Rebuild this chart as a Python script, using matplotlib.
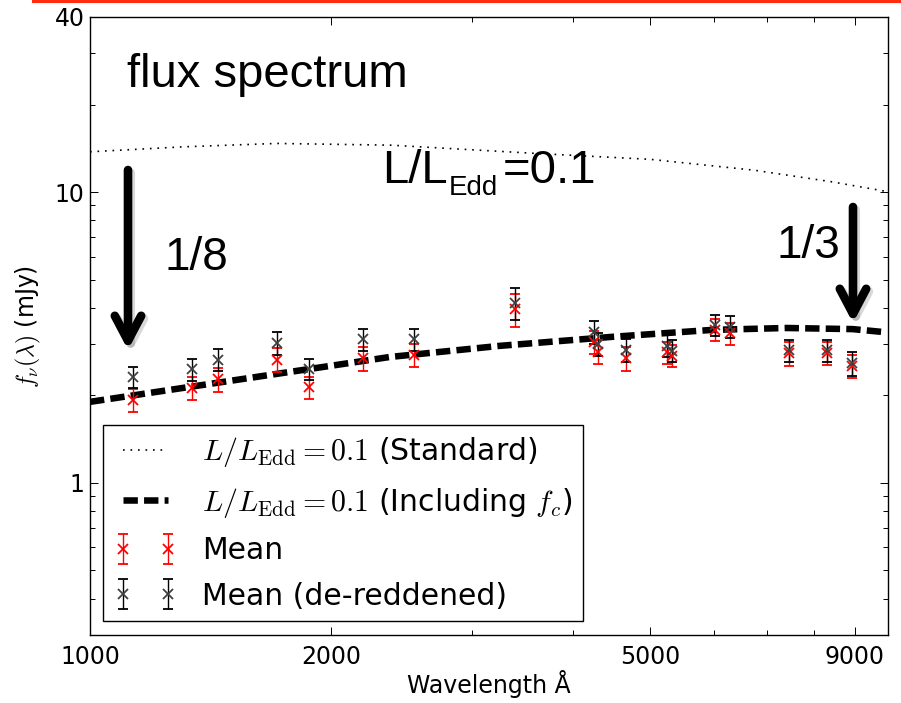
import matplotlib
matplotlib.use('Agg')
import matplotlib.pyplot as plt
import matplotlib.patheffects as pe
from matplotlib.lines import Line2D
from matplotlib.patches import FancyArrowPatch
from matplotlib.ticker import NullFormatter

# disk model spectra, f_nu in mJy vs wavelength in Angstrom
std_wave = [1000, 1307, 1710, 2374, 3606, 5003, 6745, 8420, 9803]
std_flux = [13.76, 14.31, 14.70, 14.50, 13.58, 12.96, 11.89, 10.85, 10.08]

fc_wave = [1000, 1522, 2365, 3245, 4487, 5982, 7396, 8943, 9800]
fc_flux = [1.90, 2.26, 2.71, 2.96, 3.18, 3.36, 3.41, 3.38, 3.30]

# mean photometry, observed and de-reddened
wave = [1133, 1339, 1446, 1712, 1878, 2189, 2540, 3386, 4250, 4300,
        4668, 5250, 5330, 6017, 6281, 7450, 8312, 8930]
mean_flux = [1.93, 2.12, 2.27, 2.65, 2.13, 2.68, 2.75, 3.95, 3.06, 2.83,
             2.68, 2.81, 2.74, 3.36, 3.27, 2.79, 2.80, 2.52]
mean_err = [0.17, 0.19, 0.21, 0.25, 0.19, 0.25, 0.25, 0.50, 0.28, 0.26,
            0.25, 0.25, 0.24, 0.29, 0.29, 0.26, 0.26, 0.23]
dered_flux = [2.31, 2.46, 2.65, 3.03, 2.46, 3.12, 3.12, 4.15, 3.31, 3.00,
              2.86, 2.96, 2.85, 3.49, 3.45, 2.86, 2.86, 2.58]
dered_err = [0.19, 0.21, 0.23, 0.27, 0.20, 0.27, 0.27, 0.53, 0.30, 0.27,
             0.26, 0.26, 0.25, 0.30, 0.30, 0.25, 0.25, 0.25]

xticks = [1000, 2000, 5000, 9000]
yticks = [1, 10, 40]

plt.rcParams['mathtext.fontset'] = 'cm'
plt.rcParams['font.family'] = 'DejaVu Sans'

W, H = 901, 703


def fx(px):
    return px / W


def fy(py):
    return 1 - py / H


fig = plt.figure(figsize=(W / 100, H / 100), dpi=100)
ax = fig.add_axes([fx(90), fy(635), (888 - 90) / W, (635 - 17) / H])

ax.plot(std_wave, std_flux, color='k', lw=1.2, ls=(0, (1, 3.5)),
        label=r'$L/L_{\rm Edd}=0.1$ (Standard)')
ax.plot(fc_wave, fc_flux, color='k', lw=4.7, ls=(0, (2.2, 0.95)),
        label=r'$L/L_{\rm Edd}=0.1$ (Including $f_c$)')
ax.errorbar(wave, mean_flux, yerr=mean_err, fmt='x', color='r', ms=7, mew=1.3,
            elinewidth=1, capsize=3.6, capthick=1, label='Mean')
ax.errorbar(wave, dered_flux, yerr=dered_err, fmt='x', color='k', mec='0.25', ms=7,
            mew=1.3, elinewidth=1, capsize=3.6, capthick=1, label='Mean (de-reddened)')

ax.set_xscale('log')
ax.set_yscale('log')
ax.set_xlim(1000, 9900)
ax.set_ylim(0.3, 40)
ax.set_xticks(xticks)
ax.set_xticklabels([str(t) for t in xticks])
ax.set_yticks(yticks)
ax.set_yticklabels([str(t) for t in yticks])
ax.xaxis.set_minor_formatter(NullFormatter())
ax.yaxis.set_minor_formatter(NullFormatter())
ax.tick_params(which='both', direction='in', top=True, right=True, width=0.7)
ax.tick_params(which='major', length=5.8, labelsize=17)
ax.tick_params(which='minor', length=3.6)
ax.tick_params(axis='x', which='major', pad=7)
ax.tick_params(axis='y', which='major', pad=4)
for s in ax.spines.values():
    s.set_linewidth(1.0)

ax.set_xlabel('Wavelength Å', fontsize=17, labelpad=1)
ax.set_ylabel(r'$f_\nu(\lambda)$ (mJy)', fontsize=17, labelpad=8)

leg = ax.legend(loc='lower left', bbox_to_anchor=(0.0167, 0.0227), borderaxespad=0,
                fontsize=21.5, numpoints=2, handlelength=2.1, handletextpad=0.85,
                borderpad=0.35, labelspacing=0.55, fancybox=False, framealpha=1,
                edgecolor='k')
leg.get_frame().set_linewidth(1.0)

# slide header rule
fig.add_artist(Line2D([fx(33), 1], [fy(1.3), fy(1.3)], color='#ff2d0f', lw=2.2))

# annotations
kw = dict(family='Liberation Sans', color='k', va='baseline', ha='left')
fig.text(fx(127), fy(87), 'flux spectrum', fontsize=34, **kw)
fig.text(fx(382), fy(183), 'L/L', fontsize=34, **kw)
fig.text(fx(449), fy(195), 'Edd', fontsize=20, **kw)
fig.text(fx(503), fy(183), '=0.1', fontsize=34, **kw)
fig.text(fx(165), fy(270), '1/8', fontsize=33, **kw)
fig.text(fx(777), fy(258), '1/3', fontsize=33, **kw)


def arrow(x, y0, y1):
    a = FancyArrowPatch((fx(x), fy(y0)), (fx(x), fy(y1)), transform=fig.transFigure,
                        arrowstyle='->,head_length=18,head_width=9.5', mutation_scale=1,
                        lw=6.2, color='k', shrinkA=0, shrinkB=0,
                        capstyle='round', joinstyle='round',
                        path_effects=[pe.SimpleLineShadow(offset=(2, -2), shadow_color='k', alpha=0.15),
                                      pe.Normal()])
    fig.add_artist(a)


arrow(128, 170, 350)
arrow(853, 207, 323)

fig.savefig('out.png', dpi=100)
